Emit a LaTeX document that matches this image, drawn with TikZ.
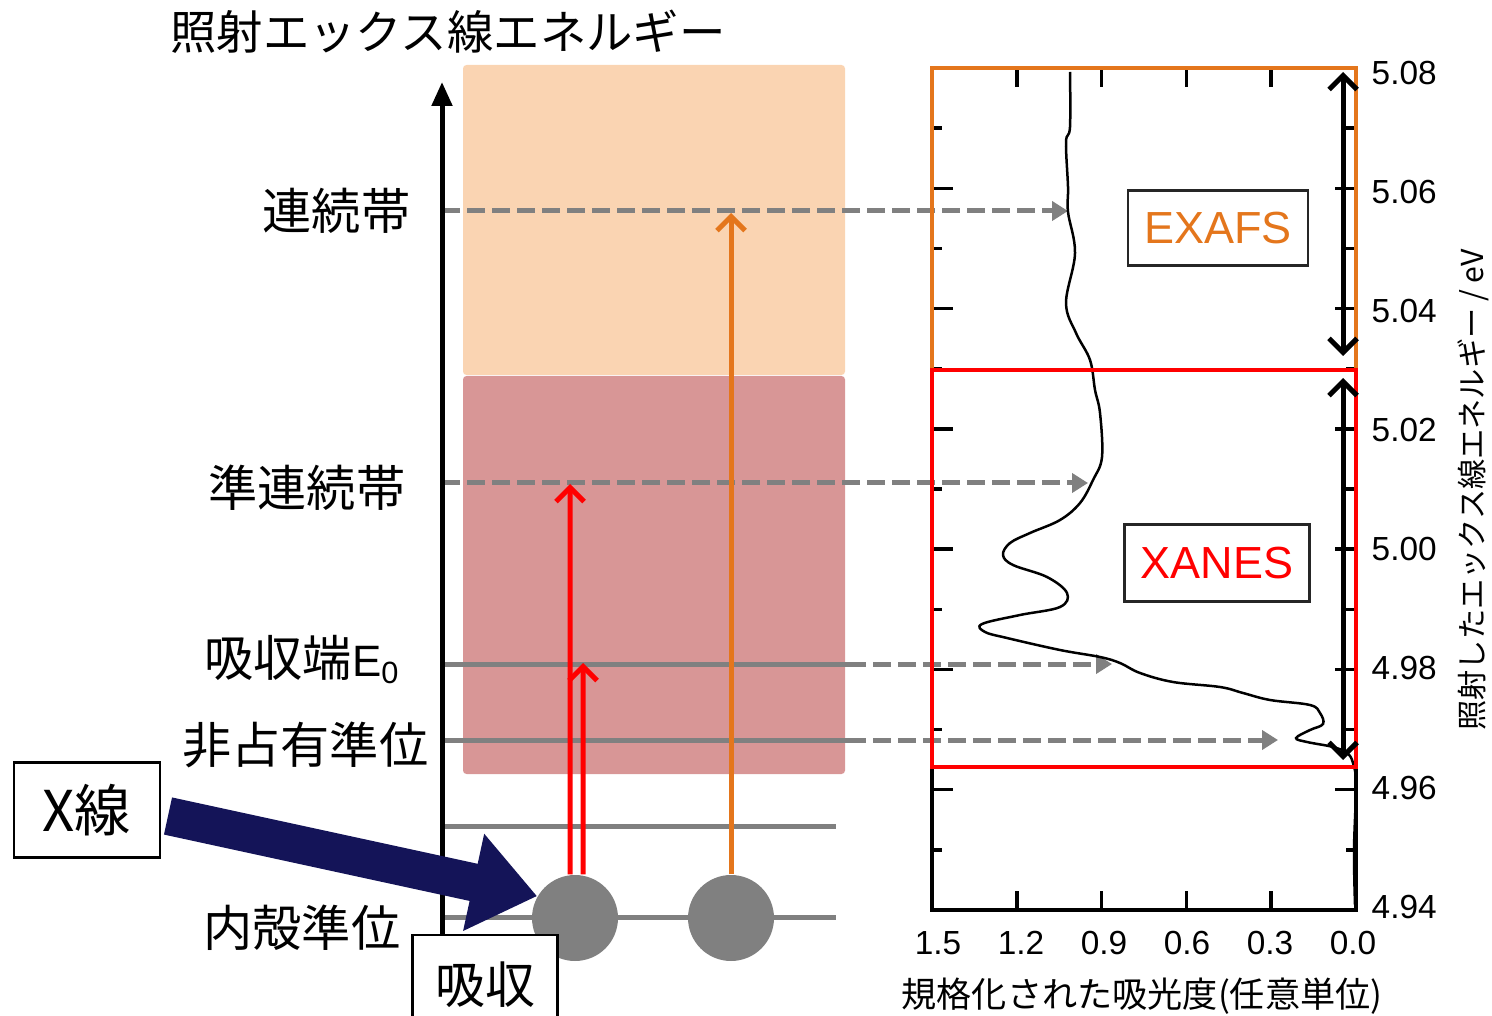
\documentclass[tikz,border=0pt]{standalone}
\usepackage{fontspec}
\setmainfont{Liberation Sans}
\newfontfamily\jp{Noto Sans CJK JP}
\usetikzlibrary{arrows.meta}
\definecolor{peach}{RGB}{250,212,178}
\definecolor{rose}{RGB}{216,150,150}
\definecolor{xorange}{RGB}{228,118,28}
\definecolor{navy}{RGB}{20,20,88}
\definecolor{lvgray}{RGB}{128,128,128}
\tikzset{
    lvline/.style={lvgray, line width=0.5mm},
    dasharr/.style={lvgray, line width=0.5mm, dash pattern=on 1.8mm off 0.7mm, -{Triangle[length=1.6mm,width=1.9mm]}},
    lvlabel/.style={anchor=east, inner sep=0pt, font=\jp\fontsize{14}{16}\selectfont},
    excite/.style={line width=0.5mm, -{Straight Barb[length=1.4mm,width=2.8mm]}},
    electron/.style={circle, fill=lvgray, minimum size=8.6mm, inner sep=0pt},
    numlabel/.style={inner sep=0pt, font=\fontsize{9.5}{11}\selectfont},
    tagbox/.style={draw=black!85, fill=white, line width=0.25mm, minimum width=18mm, minimum height=7.5mm, font=\fontsize{12.8}{15}\selectfont},
}
\begin{document}
\begin{tikzpicture}[x=0.1mm, y=-0.1mm]
    \useasboundingbox (0, 0) rectangle (1492, 1016);
    % \draw[lightgray, step=100] (0, 0) grid (1492, 1016);
    \fill[peach, rounded corners=1pt] (463, 65) rectangle (845, 375);
    \fill[rose, rounded corners=1pt] (463, 376) rectangle (845, 774);

    \node[font=\jp\fontsize{13.2}{16}\selectfont] (title) at (448, 32) {照射エックス線エネルギー};

    % levels
    \coordinate (cont0) at (442, 211);   \coordinate (cont1) at (1068, 211);
    \coordinate (quasi0) at (442, 483);  \coordinate (quasi1) at (1088, 483);
    \coordinate (edge0) at (442, 664);   \coordinate (edge1) at (848, 664);   \coordinate (edge2) at (1112, 664);
    \coordinate (unocc0) at (442, 740);  \coordinate (unocc1) at (848, 740);  \coordinate (unocc2) at (1278, 740);
    \coordinate (mid0) at (442, 826);    \coordinate (mid1) at (836, 826);
    \coordinate (core0) at (442, 917);   \coordinate (core1) at (836, 917);
    \draw[dasharr] (cont0) -- (cont1);
    \draw[dasharr] (quasi0) -- (quasi1);
    \draw[lvline] (edge0) -- (edge1);
    \draw[dasharr] (edge1) -- (edge2);
    \draw[lvline] (unocc0) -- (unocc1);
    \draw[dasharr] (unocc1) -- (unocc2);
    \draw[lvline] (mid0) -- (mid1);
    \draw[lvline] (core0) -- (core1);

    \coordinate (ax0) at (442, 935);
    \coordinate (ax1) at (442, 82);
    \draw[line width=0.5mm, -{Triangle[length=2.4mm,width=2mm]}] (ax0) -- (ax1);

    \node[lvlabel] (lcont) at (411, 211) {連続帯};
    \node[lvlabel] (lquasi) at (406, 488) {準連続帯};
    \node[lvlabel] (ledge) at (401, 660) {吸収端{\rmfamily\fontsize{12.5}{15}\selectfont E\textsubscript{0}}};
    \node[lvlabel] (lunocc) at (429, 745) {非占有準位};
    \node[lvlabel] (lcore) at (401, 928) {内殻準位};

    \node[electron] (e1) at (575, 918) {};
    \node[electron] (e2) at (731, 918) {};
    \draw[excite, red] ([xshift=-0.5mm]e1.north) -- (570, 484);
    \draw[excite, red] ([xshift=0.8mm]e1.north) -- (583, 663);
    \draw[excite, xorange] (e2.north) -- (731, 213);

    \node[draw, line width=0.25mm, minimum width=14.6mm, minimum height=9.5mm, font=\jp\fontsize{16}{18}\selectfont] (xray) at (87, 810) {X線};
    \node[draw, fill=white, line width=0.25mm, minimum width=14.5mm, minimum height=10mm, font=\jp\fontsize{14.2}{17}\selectfont] (absorb) at (485, 985) {吸収};
    \coordinate (xtail) at (168, 816);
    \draw[navy, line width=3.8mm, -{Triangle[length=6.5mm,width=9.5mm]}] (xtail) -- (e1.150);

    % spectrum
    \draw[line width=0.4mm] (932, 68) rectangle (1356, 910);
    \foreach \k in {1,...,13} {
        \pgfmathsetmacro\yy{68+60.14*\k}
        \pgfmathsetmacro\tl{isodd(\k) ? 10 : 21}
        \draw[line width=0.35mm] (932, \yy) -- ++(\tl, 0);
        \draw[line width=0.35mm] (1356, \yy) -- ++(-\tl, 0);
    }
    \foreach \k in {1,...,4} {
        \draw[line width=0.35mm] (932+84.8*\k, 68) -- ++(0, 19);
        \draw[line width=0.35mm] (932+84.8*\k, 910) -- ++(0, -19);
    }
    \foreach \lab [count=\i from 0] in {5.08,5.06,5.04,5.02,5.00,4.98,4.96,4.94}
        \node[numlabel, anchor=west] (ty\i) at (1371, 73+119.1*\i) {\lab};
    \foreach \lab [count=\i from 0] in {1.5,1.2,0.9,0.6,0.3,0.0}
        \node[numlabel] (tx\i) at (938+83*\i, 943) {\lab};
    \node[font=\jp\fontsize{10}{12}\selectfont] (xlab) at (1142, 996) {規格化された吸光度(任意単位)};
    \node[rotate=90, font=\jp\fontsize{8.6}{10}\selectfont] (ylab) at (1473, 490) {照射したエックス線エネルギー / eV};

    \draw[line width=0.25mm] plot[smooth, tension=0.6] coordinates {
        (1070,72) (1070,127) (1066,142) (1068,187) (1068,212) (1075,253) (1066,303) (1076,333)
        (1090,360) (1095,390) (1100,413) (1102,457) (1093,480) (1080,503) (1060,520) (1030,533)
        (1010,543) (1003,555) (1013,565) (1047,577) (1067,593) (1060,607) (1020,615) (982,624)
        (985,632) (1007,638) (1060,650) (1100,657) (1120,663) (1140,673) (1173,682) (1220,687)
        (1243,693) (1270,700) (1310,705) (1320,713) (1323,724) (1310,730) (1296,738) (1307,742)
        (1333,747) (1347,753) (1353,763) (1356,785) (1354,850) (1355,905)};

    \draw[xorange, line width=0.35mm] (932, 68) rectangle (1356, 370);
    \draw[red, line width=0.35mm] (932, 370) rectangle (1356, 767);
    \coordinate (ex0) at (1343, 72);  \coordinate (ex1) at (1343, 356);
    \coordinate (xa0) at (1343, 378); \coordinate (xa1) at (1343, 760);
    \draw[line width=0.5mm, {Straight Barb[length=1.4mm,width=2.8mm]}-{Straight Barb[length=1.4mm,width=2.8mm]}] (ex0) -- (ex1);
    \draw[line width=0.5mm, {Straight Barb[length=1.4mm,width=2.8mm]}-{Straight Barb[length=1.4mm,width=2.8mm]}] (xa0) -- (xa1);

    \node[tagbox, text=xorange] (exafs) at (1218, 228) {EXAFS};
    \node[tagbox, text=red, minimum width=18.5mm, minimum height=7.7mm] (xanes) at (1217, 563) {XANES};
\end{tikzpicture}
\end{document}
